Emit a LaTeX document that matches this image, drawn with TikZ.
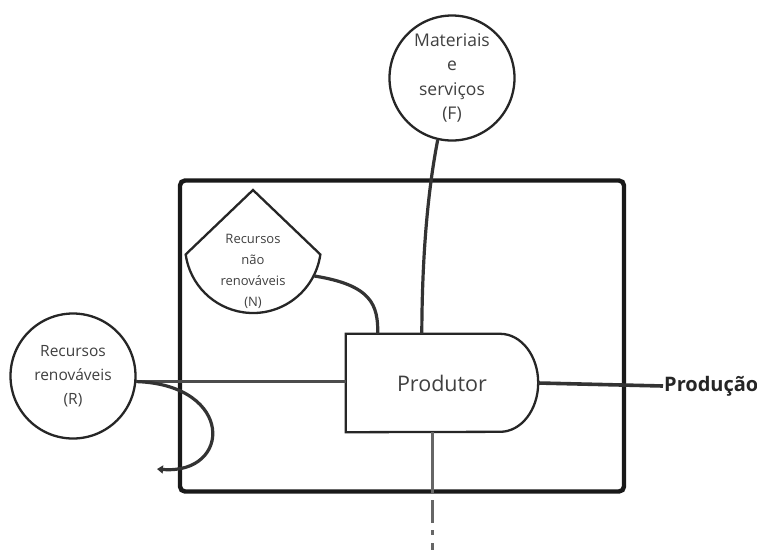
\documentclass[tikz,border=0pt]{standalone}
\usepackage{fontspec}
\setmainfont{Open Sans}
\usetikzlibrary{arrows.meta}
\begin{document}
\begin{tikzpicture}[
  x=1pt, y=1pt,
  every node/.style={text=black!75, align=center},
  source/.style={draw=black!85, line width=2.3pt, circle, fill=white, minimum size=125pt, inner sep=0pt},
  flow/.style={draw=black!80, line width=3.2pt},
  heat/.style={draw=black!60, line width=3pt, dash pattern=on 62pt off 6pt on 23pt off 7pt on 5pt off 8pt on 10pt}
]
\useasboundingbox (0,0) rectangle (757,-550);

% system boundary
\node[draw=black!90, line width=4.4pt, rounded corners=5pt, minimum width=444pt, minimum height=311pt] (sys) at (402,-336) {};

% sources
\node[source, font=\fontsize{15.5}{24}\selectfont] (R) at (73,-376) {Recursos\\renováveis\\(R)};
\node[source, font=\fontsize{17.5}{24.5}\selectfont] (F) at (452,-78) {Materiais\\e\\serviços\\(F)};

% storage
\coordinate (Nc) at (253,-245);
\draw[draw=black!85, line width=2.3pt, fill=white] ([shift={(188:68)}]Nc) -- (253,-190) -- ([shift={(-8:68)}]Nc) arc[start angle=-8, end angle=-172, radius=68] -- cycle;
\node[font=\fontsize{13}{21}\selectfont] (N) at (253,-271) {Recursos\\não\\renováveis\\(N)};

% producer
\node[minimum width=192pt, minimum height=98pt, font=\fontsize{21.5}{24}\selectfont] (P) at (442,-383) {Produtor};
\draw[draw=black!85, line width=2.3pt] (P.north west) -- ([xshift=-38pt]P.north east) arc[start angle=90, end angle=-90, x radius=38, y radius=49] -- (P.south west) -- cycle;

\node[font=\fontsize{20}{22}\selectfont\bfseries, text=black!85, anchor=west, inner sep=1pt] (out) at (663,-386) {Produção};
\coordinate (sink) at (157,-469);
\coordinate (heat) at (432,-550);

% flows
\draw[flow, draw=black!70, line width=2.4pt] (R.-5) -- (R.-5 -| P.west);
\draw[flow, -{Triangle[length=6pt, width=8pt]}] (R.-5) .. controls (235,-385) and (232,-475) .. (sink);
\draw[flow] ([shift={(-27:68)}]Nc) .. controls (372,-285) and (378,-305) .. ([xshift=32pt]P.north west);
\draw[flow] (F.-103) .. controls (426,-200) and (422,-270) .. ([xshift=76pt]P.north west);
\draw[flow, line width=3.6pt] (P.east) -- (out.west);
\draw[heat] ([xshift=-10pt]P.south) -- (heat);
\end{tikzpicture}
\end{document}
